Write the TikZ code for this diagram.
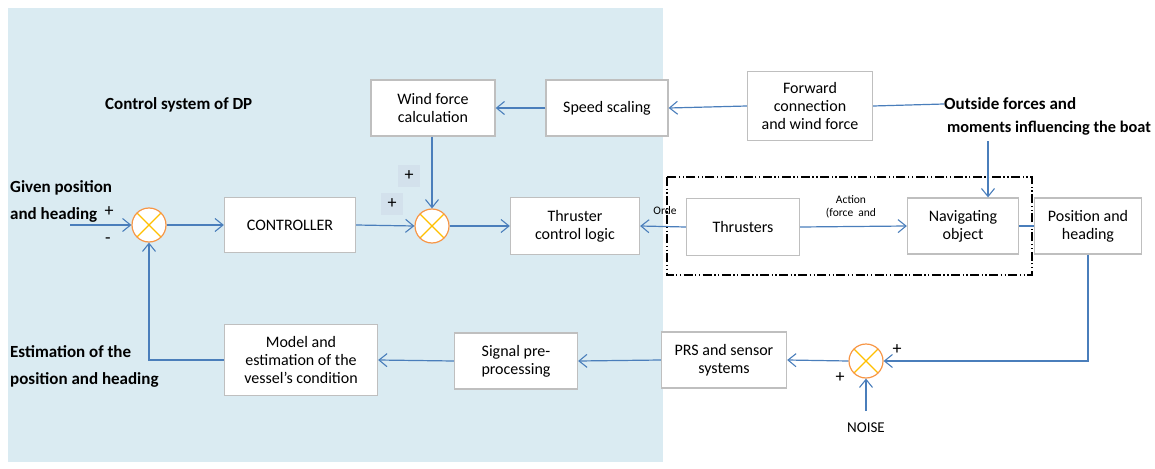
\documentclass[tikz,border=0pt]{standalone}
\usepackage{fontspec}
\setmainfont{Carlito}
\usetikzlibrary{arrows.meta}
\definecolor{bgblue}{HTML}{DAEBF2}
\definecolor{lineblue}{HTML}{4A7EBB}
\definecolor{boxgray}{HTML}{BFBFBF}
\definecolor{sumorange}{HTML}{F79646}
\definecolor{sumyellow}{HTML}{FFC000}
\definecolor{plusbg}{HTML}{D3E1EC}
\tikzset{
  box/.style={draw=boxgray, line width=1.3pt, fill=white, align=center, font=\fontsize{16}{18}\selectfont, inner sep=1pt},
  sum/.style={circle, draw=sumorange, line width=1.2pt, fill=white, minimum size=34pt, inner sep=0pt,
    path picture={\draw[sumyellow, line width=1.1pt]
      (path picture bounding box.north west) -- (path picture bounding box.south east)
      (path picture bounding box.north east) -- (path picture bounding box.south west);}},
  conn/.style={draw=lineblue, line width=1.2pt},
  arr/.style={conn, -{Straight Barb[length=8pt,width=13pt,line width=1.1pt]}},
  lbl/.style={font=\bfseries\fontsize{17}{27}\selectfont, align=left, inner sep=0pt},
  pm/.style={font=\fontsize{18}{18}\selectfont, inner sep=0pt},
  small/.style={font=\fontsize{11.5}{13}\selectfont, align=center, inner sep=0pt},
}
\begin{document}
\begin{tikzpicture}[x=1pt, y=-1pt]
\useasboundingbox (0,0) rectangle (1155,468);
\fill[bgblue] (8,8) rectangle (663,462);

% dash-dot frame
\draw[black, line width=1.1pt, dash pattern=on 9pt off 2.5pt on 1.3pt off 2.5pt on 1.3pt off 2.5pt]
  (667,177) rectangle (1032,275);

% boxes
\node[box, minimum width=124pt, minimum height=56pt] (wind) at (433,108) {Wind force\\calculation};
\node[box, minimum width=122pt, minimum height=56pt] (speed) at (607,108) {Speed scaling};
\node[box, minimum width=125pt, minimum height=69pt] (fwd) at (810,106) {Forward\\connection\\and wind force};
\node[box, minimum width=131pt, minimum height=55pt] (ctrl) at (290,225) {CONTROLLER};
\node[box, minimum width=129pt, minimum height=57pt] (tcl) at (575,226) {Thruster\\control logic};
\node[box, minimum width=113pt, minimum height=57pt] (thr) at (743,227) {Thrusters};
\node[box, minimum width=111pt, minimum height=56pt] (nav) at (963,226) {Navigating\\object};
\node[box, minimum width=107pt, minimum height=56pt] (ph) at (1088,226) {Position and\\heading};
\node[box, minimum width=153pt, minimum height=71pt] (model) at (301,360) {Model and\\estimation of the\\vessel's condition};
\node[box, minimum width=123pt, minimum height=56pt] (sig) at (516,361) {Signal pre-\\processing};
\node[box, minimum width=125pt, minimum height=56pt] (prs) at (724,360) {PRS and sensor\\systems};

% summing junctions
\node[sum] (s1) at (149,225) {};
\node[sum] (s2) at (432,226) {};
\node[sum] (s3) at (866,361) {};

% labels
\node[lbl, anchor=west] (title) at (105,105) {Control system of DP};
\node[lbl, anchor=west] (given) at (10,201) {Given position\\and heading};
\node[lbl, anchor=west] (est) at (10,366) {Estimation of the\\position and heading};
\node[lbl, anchor=west] (outa) at (944,104) {Outside forces and};
\node[lbl, anchor=west, font=\bfseries\fontsize{16.3}{20}\selectfont] (outb) at (947,128) {moments influencing the boat};
\node[font=\fontsize{15}{15}\selectfont, inner sep=0pt] (noise) at (866,428) {NOISE};
\node[small, anchor=south] (orde) at (665,215) {Orde};
\node[small, anchor=south] (action) at (851,218) {Action\\(force\ \ and};

% plus / minus signs
\node[pm] (p1) at (109,212) {+};
\node[pm] (m1) at (108,241) {-};
\node[pm, fill=plusbg, minimum size=22pt] (p2) at (409,176) {+};
\node[pm, fill=plusbg, minimum size=22pt] (p3) at (392,204) {+};
\node[pm] (p4) at (897,350) {+};
\node[pm] (p5) at (840,378) {+};

% connectors
\coordinate (in) at (70,225);
\draw[arr] (in) -- (s1.west);
\draw[arr] (s1.east) -- (ctrl.west);
\draw[arr] (ctrl.east) -- (s2.west);
\draw[arr] (wind.south -| s2.north) -- (s2.north);
\draw[arr] (s2.east) -- (tcl.west);
\draw[arr] (speed.west) -- (wind.east);
\draw[arr] (fwd.west) -- (speed.east);
\draw[conn] (fwd.east) -- (outa.west);
\coordinate (dn) at (988,141);
\draw[arr] (dn) -- (dn |- nav.north);
\draw[arr] (thr.west) -- (tcl.east);
\draw[arr] (thr.east) -- (nav.west);
\draw[conn] (nav.east) -- (ph.west);
\draw[arr] (ph.south) |- (s3.east);
\coordinate (nz) at (866,411);
\draw[arr] (nz) -- (s3.south);
\draw[arr] (s3.west) -- (prs.east);
\draw[arr] (prs.west) -- (sig.east);
\draw[arr] (sig.west) -- (model.east);
\draw[arr] (model.west) -| (s1.south);
\end{tikzpicture}
\end{document}
